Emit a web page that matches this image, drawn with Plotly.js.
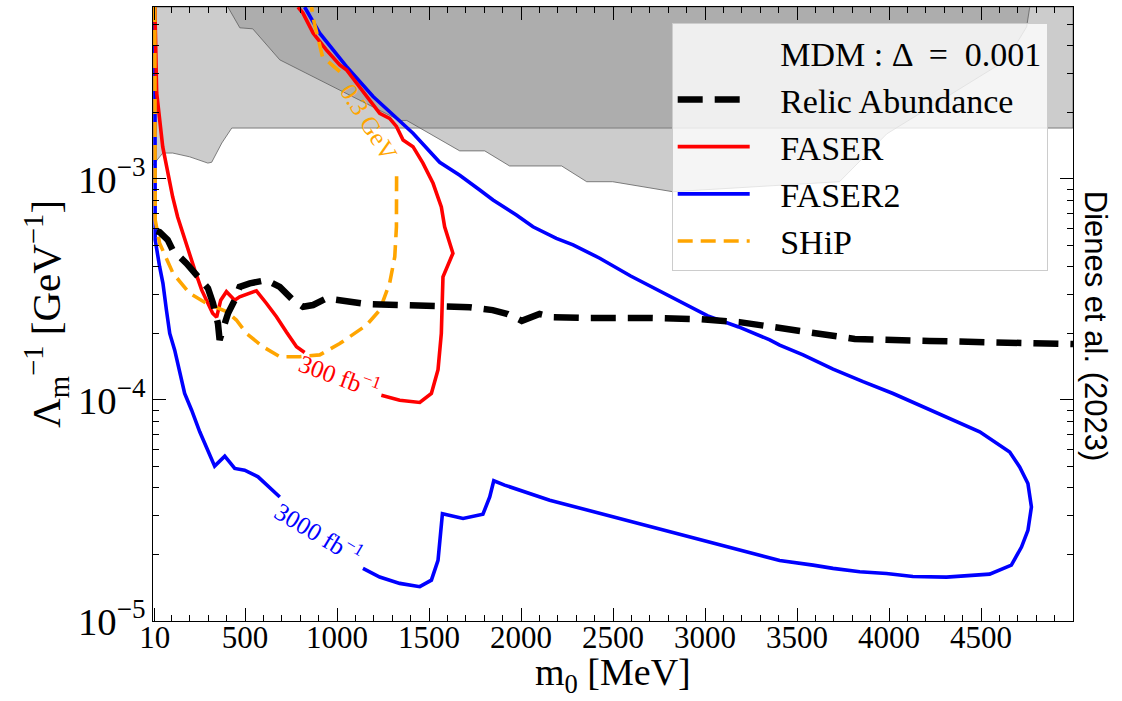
<!DOCTYPE html>
<html>
<head>
<meta charset="utf-8">
<script src="https://cdn.plot.ly/plotly-3.0.1.min.js"></script>
<style>html,body{margin:0;padding:0;background:#fff}#chart{width:1122px;height:701px}</style>
</head>
<body>
<div id="chart"></div>
<script>
// ---- tick labels ----
const massTickVals = [10, 500, 1000, 1500, 2000, 2500, 3000, 3500, 4000, 4500];
const massTickText = ["10", "500", "1000", "1500", "2000", "2500", "3000", "3500", "4000", "4500"];

// ---- excluded regions (grey) ----
const excl1X = [0, 9, 53, 107, 199, 298, 319, 374, 428, 5000, 5000, 0];
const excl1Y = [1.15e-3, 1.18e-3, 1.31e-3, 1.31e-3, 1.26e-3, 1.18e-3, 1.19e-3, 1.455e-3, 1.70e-3, 1.70e-3, 6e-3, 6e-3];
const excl2X = [407, 472, 542, 689, 1341, 1379, 1667, 1803, 1938, 2221, 2357, 2498, 2824, 3731, 3988, 4640, 4748, 4765];
const excl2Y = [6e-3, 4.83e-3, 4.78e-3, 3.46e-3, 1.84e-3, 1.84e-3, 1.34e-3, 1.34e-3, 1.145e-3, 1.145e-3, 9.72e-4, 9.72e-4, 8.76e-4, 9.72e-4, 1.60e-3, 3.46e-3, 4.88e-3, 6e-3];

// ---- FASER (300 fb^-1) ----
const faserX = [10, 20, 53, 80, 107, 134, 161, 189, 227, 265, 297, 324, 346, 368, 399, 444, 471, 562, 616, 671, 725, 780, 824,
  null,
  1241, 1341, 1450, 1513, 1549, 1567, 1576, 1630, 1585, 1567, 1522, 1467, 1413, 1359, 1323, 1286, 1232, 1160, 1051, 1015, 942, 870, 815, 788];
const faserY = [6e-3, 2.45e-3, 1.396e-3, 1.065e-3, 8.29e-4, 6.73e-4, 5.69e-4, 4.77e-4, 3.87e-4, 3.14e-4, 2.75e-4, 2.47e-4, 2.37e-4, 2.83e-4, 3.09e-4, 2.83e-4, 2.93e-4, 3.12e-4, 2.74e-4, 2.38e-4, 2.03e-4, 1.74e-4, 1.64e-4,
  null,
  1.05e-4, 9.98e-5, 9.75e-5, 1.07e-4, 1.37e-4, 2.00e-4, 3.61e-4, 4.61e-4, 6.08e-4, 7.47e-4, 9.56e-4, 1.18e-3, 1.40e-3, 1.50e-3, 1.73e-3, 1.88e-3, 1.98e-3, 2.36e-3, 3.12e-3, 3.28e-3, 3.84e-3, 4.57e-3, 5.63e-3, 6e-3];

// ---- FASER2 (3000 fb^-1) ----
const faser2X = [10, 10, 12, 36, 54, 73, 91, 118, 145, 172, 210, 254, 335, 390, 444, 498, 571, 689,
  null,
  1141, 1232, 1341, 1450, 1513, 1549, 1573, 1685, 1793, 1830, 1852, 1911, 2156, 2428, 2700, 2971, 3243, 3406, 3587, 3696, 3841, 3986, 4130, 4312, 4547, 4665, 4720, 4755, 4774, 4755, 4710, 4656, 4493, 4330, 4185, 4022, 3859, 3696, 3533, 3406, 3352, 3183, 3015, 2890, 2743, 2596, 2428, 2283, 2192, 2065, 1975, 1848, 1776, 1667, 1558, 1449, 1413, 1341, 1196, 1051, 906, 824];
const faser2Y = [6e-3, 7.0e-4, 5.3e-4, 4.01e-4, 3.37e-4, 2.55e-4, 2.00e-4, 1.68e-4, 1.32e-4, 1.07e-4, 8.99e-5, 7.18e-5, 5.02e-5, 5.57e-5, 4.90e-5, 4.81e-5, 4.49e-5, 3.64e-5,
  null,
  1.73e-5, 1.58e-5, 1.48e-5, 1.43e-5, 1.53e-5, 1.88e-5, 3.06e-5, 2.91e-5, 3.04e-5, 3.64e-5, 4.31e-5, 4.12e-5, 3.52e-5, 3.07e-5, 2.68e-5, 2.32e-5, 2.03e-5, 1.88e-5, 1.79e-5, 1.73e-5, 1.67e-5, 1.64e-5, 1.59e-5, 1.58e-5, 1.63e-5, 1.79e-5, 2.16e-5, 2.57e-5, 3.28e-5, 4.19e-5, 4.98e-5, 5.82e-5, 7.18e-5, 8.25e-5, 9.31e-5, 1.07e-4, 1.21e-4, 1.38e-4, 1.60e-4, 1.77e-4, 1.87e-4, 2.14e-4, 2.40e-4, 2.72e-4, 3.14e-4, 3.64e-4, 4.38e-4, 5.03e-4, 5.39e-4, 6.08e-4, 6.87e-4, 8.04e-4, 8.92e-4, 1.04e-3, 1.19e-3, 1.50e-3, 1.61e-3, 1.83e-3, 2.36e-3, 3.23e-3, 4.57e-3, 6e-3];

// ---- SHiP (0.3 GeV) ----
const shipX = [10, 10, 12, 36, 109, 199, 290, 399, 453, 508, 598, 689, 797, 906, 1015, 1160, 1232, 1286, 1314, 1323, 1324, 1324,
  null,
  1015, 951, 921, 888, 870, 862];
const shipY = [6e-3, 7.24e-4, 6.52e-4, 5.12e-4, 3.74e-4, 3.04e-4, 2.74e-4, 2.51e-4, 2.30e-4, 2.00e-4, 1.74e-4, 1.57e-4, 1.57e-4, 1.60e-4, 1.80e-4, 2.18e-4, 2.55e-4, 3.37e-4, 4.45e-4, 6.08e-4, 8.04e-4, 1.10e-3,
  null,
  3.06e-3, 3.40e-3, 3.58e-3, 4.65e-3, 5.36e-3, 6e-3];

// ---- Relic abundance ----
const relicX = [20, 36, 80, 107, 182, 245, 299, 326, 353, 362, 390, 408, 444, 471, 526, 616, 689, 761, 815, 870, 942, 1051, 1160, 1341, 1558, 1721, 1846, 1928, 2004, 2101, 2172, 2346, 2700, 2971, 3188, 3406, 3602, 3705, 3814, 4221, 4857, 5000];
const relicY = [5.81e-4, 5.75e-4, 5.30e-4, 4.77e-4, 4.15e-4, 3.61e-4, 3.20e-4, 2.74e-4, 2.22e-4, 1.87e-4, 2.18e-4, 2.47e-4, 2.83e-4, 3.25e-4, 3.37e-4, 3.49e-4, 3.25e-4, 2.83e-4, 2.64e-4, 2.69e-4, 2.88e-4, 2.78e-4, 2.72e-4, 2.69e-4, 2.66e-4, 2.63e-4, 2.55e-4, 2.45e-4, 2.28e-4, 2.45e-4, 2.37e-4, 2.35e-4, 2.35e-4, 2.32e-4, 2.25e-4, 2.12e-4, 2.01e-4, 1.93e-4, 1.89e-4, 1.85e-4, 1.80e-4, 1.79e-4];

const serif = "Liberation Serif, Times New Roman, serif";
const greyFill = "rgba(128,128,128,0.4)";
const greyEdge = "rgba(90,90,90,0.75)";
const pad = "\u00a0\u00a0\u00a0";

const traces = [
  {x: excl1X, y: excl1Y, type: "scatter", mode: "lines", fill: "toself", fillcolor: greyFill,
   line: {color: greyEdge, width: 1}, showlegend: false, hoverinfo: "skip"},
  {x: excl2X, y: excl2Y, type: "scatter", mode: "lines", fill: "toself", fillcolor: greyFill,
   line: {color: greyEdge, width: 1}, showlegend: false, hoverinfo: "skip"},
  {x: [null], y: [null], type: "scatter", mode: "lines", name: pad + "MDM : Δ  =  0.001",
   line: {color: "rgba(0,0,0,0)", width: 0}, legendrank: 1, legendgroup: "g1"},
  {x: faser2X, y: faser2Y, type: "scatter", mode: "lines", name: pad + "FASER2",
   line: {color: "#0000ff", width: 3.6}, legendrank: 4, legendgroup: "g4", connectgaps: false},
  {x: faserX, y: faserY, type: "scatter", mode: "lines", name: pad + "FASER",
   line: {color: "#ff0000", width: 3.6}, legendrank: 3, legendgroup: "g3", connectgaps: false},
  {x: shipX, y: shipY, type: "scatter", mode: "lines", name: pad + "SHiP",
   line: {color: "#ffa500", width: 3.6, dash: "15px,8px"}, legendrank: 5, legendgroup: "g5", connectgaps: false},
  {x: relicX, y: relicY, type: "scatter", mode: "lines", name: pad + "Relic Abundance",
   line: {color: "#000000", width: 6.5, dash: "25px,12px"}, legendrank: 2, legendgroup: "g2"}
];

const lg = Math.log10;
const layout = {
  width: 1122, height: 701,
  margin: {l: 153, r: 49, t: 7, b: 80},
  paper_bgcolor: "#ffffff", plot_bgcolor: "#ffffff",
  font: {family: serif, color: "#000", size: 31},
  showlegend: true,
  xaxis: {
    range: [0, 5000], type: "linear",
    tickmode: "array", tickvals: massTickVals, ticktext: massTickText,
    ticks: "inside", ticklen: 13, tickwidth: 1, tickcolor: "#000",
    minor: {ticks: "inside", ticklen: 6, tickwidth: 1, tickcolor: "#000", tickmode: "linear", tick0: 0, dtick: 100},
    showline: true, linecolor: "#000", linewidth: 1.3, mirror: "allticks",
    showgrid: false, zeroline: false, ticklabelstandoff: -12,
    tickfont: {family: serif, size: 31, color: "#000"}
  },
  yaxis: {
    type: "log", range: [-5, lg(6e-3)],
    tickmode: "linear", tick0: 0, dtick: 1, exponentformat: "power", showexponent: "all",
    ticks: "inside", ticklen: 13, tickwidth: 1, tickcolor: "#000",
    minor: {ticks: "inside", ticklen: 6, tickwidth: 1, tickcolor: "#000", dtick: "D1"},
    showline: true, linecolor: "#000", linewidth: 1.3, mirror: "allticks",
    showgrid: false, zeroline: false,
    tickfont: {family: serif, size: 31, color: "#000"},
    title: {text: "Λ<sub>m</sub><sup>−1</sup> [GeV<sup>−1</sup>]", font: {family: serif, size: 41, color: "#000"}, standoff: 4}
  },
  legend: {
    x: 0.5638, y: 0.9745, xanchor: "left", yanchor: "top",
    bgcolor: "rgba(255,255,255,0.8)", bordercolor: "#cccccc", borderwidth: 1,
    font: {family: serif, size: 34, color: "#000"},
    itemwidth: 72, tracegroupgap: 6, traceorder: "normal"
  },
  annotations: [
    {x: 0.5, y: -0.0875, xref: "paper", yref: "paper", xanchor: "center", yanchor: "middle",
     text: "m<sub>0</sub> [MeV]", showarrow: false, font: {family: serif, size: 38, color: "#000"}},
    {x: 1015, y: lg(1.296e-4), xref: "x", yref: "y", text: "300 fb<sup>−1</sup>", showarrow: false,
     textangle: 20, font: {family: serif, size: 25, color: "#ff0000"}},
    {x: 900, y: lg(2.52e-5), xref: "x", yref: "y", text: "3000 fb<sup>−1</sup>", showarrow: false,
     textangle: 31, font: {family: serif, size: 25, color: "#0000ff"}},
    {x: 1173, y: lg(1.80e-3), xref: "x", yref: "y", text: "0.3 GeV", showarrow: false,
     textangle: 58, font: {family: serif, size: 25, color: "#ffa500"}},
    {x: 1.0465, y: 0.4804, xref: "paper", yref: "paper", text: "Dienes et al. (2023)", showarrow: false,
     textangle: 90, font: {family: "Liberation Sans, Arial, sans-serif", size: 31, color: "#000"}}
  ]
};

Plotly.newPlot("chart", traces, layout, {displayModeBar: false, staticPlot: true});
</script>
</body>
</html>
